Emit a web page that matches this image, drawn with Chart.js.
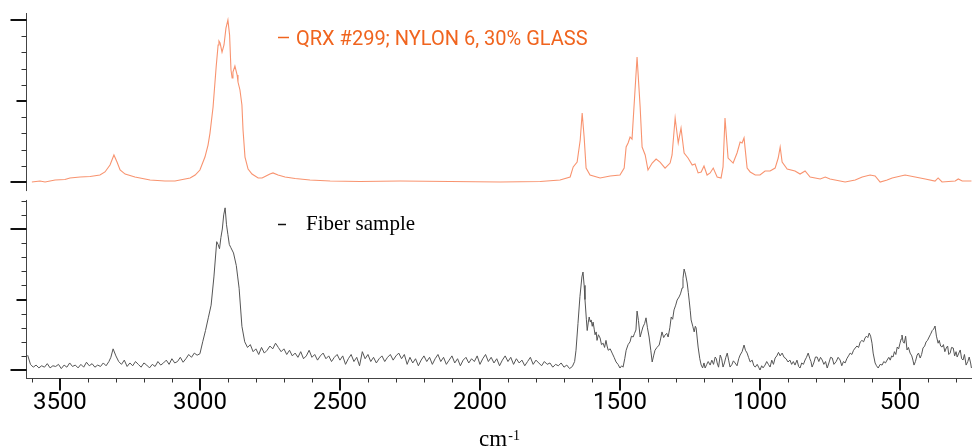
<!DOCTYPE html>
<html><head><meta charset="utf-8">
<script src="https://cdn.jsdelivr.net/npm/chart.js@4.4.0/dist/chart.umd.min.js"></script>
<style>html,body{margin:0;padding:0;background:#fff;}canvas{display:block}</style>
</head><body>
<canvas id="c" width="972" height="448"></canvas>
<script>
// ---- data (wavenumber in cm-1, relative intensity in %) ----
const nylonLabel = 'QRX #299; NYLON 6, 30% GLASS';
const fiberLabel = 'Fiber sample';
const xTickLabels = [3500, 3000, 2500, 2000, 1500, 1000, 500];
const xTitleMain = 'cm';
const xTitleSup = '-1';

const nylonWn = [
 3600,3571,3553,3517,3482,3464,3428,3392,3357,3339,
 3321,3307,3296,3285,3267,3232,3178,3125,3089,3053,
 3035,3017,3000,2982,2971,2964,2953,2942,2935,2932,
 2928,2921,2914,2907,2900,2894,2889,2885,2882,2875,
 2867,2864,2857,2850,2846,2839,2828,2814,2792,2778,
 2764,2750,2739,2721,2696,2660,2607,2535,2428,2285,
 2107,1928,1785,1714,1678,1667,1653,1642,1635,1628,
 1621,1607,1571,1535,1500,1485,1478,1471,1464,1457,
 1450,1439,1428,1421,1410,1400,1385,1371,1357,1339,
 1321,1314,1303,1292,1282,1271,1257,1242,1232,1221,
 1210,1200,1189,1178,1167,1153,1139,1132,1125,1114,
 1096,1082,1071,1064,1057,1046,1035,1017,1000,982,
 964,946,935,928,921,903,875,857,839,821,
 785,767,750,696,660,635,607,589,571,546,
 528,482,446,410,375,364,350,303,292,278,
 245];
const nylonInt = [
 0,0.6,0,1.2,1.5,2.5,3.1,3.4,4.3,6.2,
 10.5,16.7,12.3,7.4,4.9,3.1,1.2,0.6,0.6,1.9,
 2.5,4.3,7.4,15.4,22.8,30.2,46.3,71,84.6,87,
 85.8,80.2,84.6,95,100,90.7,69.1,64.2,67.9,71.6,
 66,61.7,56.8,47.5,32.1,15.4,8,4.9,2.5,2.5,
 3.7,4.9,5.6,4.3,3.1,2.2,1.2,0.6,0.3,0.6,
 0.3,0,0.3,1.2,3.1,9.3,12.3,25.9,42.6,27.8,
 8.6,4.3,2.5,3.7,4.3,8.6,21.6,24.1,27.8,26.5,
 46.3,77.2,46.3,21.6,16.7,7.4,11.7,14.2,12.3,8.6,
 11.7,16.7,39.5,24.1,33.3,17.9,14.8,10.5,11.1,5.6,
 6.2,9.9,4.3,5.6,8.6,3.1,2.5,9.3,39.5,14.8,
 11.7,17.9,24.7,24.1,27.2,8.6,6.2,4.3,4.3,6.8,
 6.8,8.6,14.8,21.6,12.3,8,6.8,4.9,6.8,3.1,
 1.9,3.1,1.9,0,1.2,3.1,4.3,3.7,0,1.2,
 2.5,4.3,3.1,1.9,0.6,2.5,0,0.6,1.9,0.6,
 0.6];

const fiberWn = [
 3615,3605,3595,3585,3575,3565,3555,3545,3535,3525,
 3515,3505,3495,3485,3475,3465,3455,3445,3435,3425,
 3415,3405,3395,3385,3375,3365,3355,3345,3335,3325,
 3318,3310,3300,3290,3280,3270,3260,3250,3240,3230,
 3220,3210,3200,3190,3180,3170,3160,3150,3140,3130,
 3120,3110,3100,3090,3080,3070,3060,3050,3040,3030,
 3020,3010,3000,2990,2980,2970,2960,2950,2940,2935,
 2930,2925,2920,2915,2910,2905,2900,2895,2890,2880,
 2870,2865,2860,2850,2840,2830,2820,2810,2800,2790,
 2780,2770,2760,2750,2740,2730,2720,2710,2700,2690,
 2680,2670,2660,2650,2640,2630,2620,2610,2600,2590,
 2580,2570,2560,2550,2540,2530,2520,2510,2500,2490,
 2480,2470,2460,2450,2440,2430,2420,2410,2400,2390,
 2380,2370,2360,2350,2340,2330,2320,2310,2300,2290,
 2280,2270,2260,2250,2240,2230,2220,2210,2200,2190,
 2180,2170,2160,2150,2140,2130,2120,2110,2100,2090,
 2080,2070,2060,2050,2040,2030,2020,2010,2000,1990,
 1980,1970,1960,1950,1940,1930,1920,1910,1900,1890,
 1880,1870,1860,1850,1840,1830,1820,1810,1800,1790,
 1780,1770,1760,1750,1740,1730,1720,1710,1700,1690,
 1680,1670,1662,1657,1650,1643,1636,1632,1628,1625,
 1620,1617,1613,1610,1606,1603,1599,1596,1592,1589,
 1585,1582,1577,1571,1566,1560,1555,1550,1546,1542,
 1535,1528,1521,1514,1507,1500,1494,1489,1483,1478,
 1471,1464,1459,1453,1448,1443,1439,1434,1428,1423,
 1418,1412,1407,1402,1396,1390,1385,1380,1375,1368,
 1360,1355,1350,1344,1339,1333,1328,1322,1317,1312,
 1307,1301,1296,1289,1284,1278,1275,1271,1266,1260,
 1256,1253,1249,1246,1240,1235,1231,1228,1224,1221,
 1215,1210,1205,1200,1196,1190,1185,1178,1172,1166,
 1160,1156,1153,1148,1142,1137,1132,1127,1122,1117,
 1112,1107,1100,1095,1089,1082,1076,1071,1064,1057,
 1052,1046,1041,1035,1028,1022,1017,1010,1005,1000,
 994,989,982,976,970,964,958,952,946,940,
 934,928,921,914,907,900,893,887,881,875,
 868,862,857,851,845,839,834,828,822,818,
 814,808,802,796,790,784,778,772,766,760,
 754,748,742,736,728,721,714,708,702,696,
 690,684,678,672,666,660,654,648,642,636,
 630,625,620,615,610,605,600,596,589,584,
 578,571,564,558,552,546,540,535,530,525,
 520,515,510,505,500,496,493,489,485,480,
 475,470,464,458,454,450,445,439,434,428,
 423,418,412,407,402,396,392,389,385,380,
 375,370,364,360,355,350,345,340,335,330,
 326,321,316,310,305,300,296,290,285,280,
 275,270,264,258,253,248,245];
const fiberInt = [
 10.5,4,2,3.5,1.5,3,2,4.5,1.5,3,
 2.5,4,1,3.5,2,5,2.5,3.5,1.5,4,
 2,5.5,3,4.5,2,3.5,2.5,5,3,6,
 9,15,10,6,4,7,2.5,5,3,6,
 4,2,5,3.5,1.5,4,2.5,6,3.5,5,
 7,4,8,5,6,9,5.5,8,11,9,
 12,10.5,11.5,20,28,37,46,66,91,89,
 86,94,100,110,115,103,96,89,87,83,
 74,66,58,31,20,16,18,13,15,11,
 16,12,14,17,15,19,16,13,15,11,
 14,10,12,9,13,8,10,14,9,11,
 7,10,12,8,10,6,9,11,7,10,
 4,8,11,6,9,3,13,8,11,6,
 9,5,8,10,6,9,11,7,10,12,
 8,11,4,9,5,8,3,7,10,6,
 9,4,8,11,6,9,4,7,10,5,
 8,3,7,9,5,8,6,10,4,8,
 11,6,9,5,8,3,7,10,6,9,
 4,8,5,7,3,6,9,4,7,5,
 3,6,4,5,2,4,3,5,2,3.5,
 1,2.5,6,14,33,52,66,69.5,60,50,
 36,28,34,37.6,34,35.5,31,34,29,25,
 27,21,25,22.7,18,19,16,21,17,14,
 15,12,9,5.7,4,1.4,3,2,8,14,
 18,20,24,23.4,26,28.4,41.8,35,23.4,27,
 30.5,33,37,30,23.4,14,5.7,10,14,16,
 17.7,22,27,23,24.8,26,23.4,30,37.6,36,
 42.6,46,49.6,51.8,54,58.2,65,71.6,68,61.7,
 55,49.6,42,35.5,31,27,31,29.8,22,16.3,
 8,3.5,1.5,5,1.4,4,6,3.5,7,4,
 9.2,8,5,2,10.6,8,2.1,5,9,12,
 7,2.1,4,6.5,5,3,8,10.6,13,17.7,
 14,12,9,5.7,7,3,2.1,4,2,0,
 3,1.5,3.5,6,4,2.1,7,4,8.5,10,
 12.5,10,12,9,8,5.7,7,4,6,3.5,
 7,2.5,1.4,5,4,7.1,9,12,8,6,
 2.1,5,9.2,9.2,6,9,7.1,4,6,1.4,
 5,9,8.5,4,6,9,7.1,3,6,5,
 8,10,12,11,14,15.6,17,16,19.9,21,
 20,22.7,24,23,26.2,24,19,12,5,3,
 1.4,4,3.5,6,5,7.1,9,7,10,9.2,
 13,11,16.3,15,19,22,24.8,20,19,24,
 14.2,16,12,10,7,3.5,6,10.6,12,8.5,
 11,15.6,17,19.9,21,23.4,25,26.2,28,29,
 31.2,24,19,21,17,16.3,18,13,15.6,17,
 11,12,16,15.6,10,13,9.2,12,14.2,8,
 7.1,11,3.5,6,9.2,5,1.4];

// ---- styling ----
const SANS = 'Roboto, "DejaVu Sans Condensed", sans-serif';
const SERIF = '"Liberation Serif", "Times New Roman", serif';
const nylonColor = '#f8936f';
const nylonTextColor = '#f0641e';
const fiberColor = '#555555';
const AXIS_BOTTOM = 379;

const pts = (wn, iv) => wn.map((w, i) => ({ x: w, y: iv[i] }));

const axesPlugin = {
  id: 'axesPlugin',
  afterDraw(chart) {
    const { ctx, chartArea: ca, scales } = chart;
    const xs = scales.x, yt = scales.yTop, yb = scales.yBottom;
    const L = ca.left + 0.5;
    ctx.save();
    ctx.lineCap = 'butt';
    function seg(x1, y1, x2, y2, w, c) {
      ctx.beginPath(); ctx.lineWidth = w; ctx.strokeStyle = c;
      ctx.moveTo(x1, y1); ctx.lineTo(x2, y2); ctx.stroke();
    }
    function yAxis(sc, lo, hi, minorMax) {
      seg(L, sc.getPixelForValue(hi), L, sc.getPixelForValue(lo), 1, '#444');
      for (let v = 0; v <= minorMax; v += 10) {
        const p = Math.round(sc.getPixelForValue(v));
        if (v === 0 || v === 100) seg(L - 16, p, L, p, 2, '#111');
        else if (v === 50) seg(L - 10, p, L, p, 2, '#111');
        else seg(L - 5, p + 0.5, L, p + 0.5, 1, '#333');
      }
    }
    yAxis(yt, -5.6, yt.max, 100);
    yAxis(yb, yb.min, 120.6, 120);
    // x axis
    const B = Math.round(ca.bottom) - 0.5;
    seg(ca.left, B, ca.right, B, 1, '#444');
    for (let v = 300; v <= 3600; v += 100) {
      const p = Math.round(xs.getPixelForValue(v));
      if (v % 500 === 0) seg(p, B, p, B + 12, 2, '#111');
      else seg(p + 0.5, B, p + 0.5, B + 4, 1, '#333');
    }
    // legends
    ctx.textBaseline = 'alphabetic';
    ctx.textAlign = 'left';
    seg(ca.left + 252, 37.5, ca.left + 263, 37.5, 1.5, nylonTextColor);
    ctx.fillStyle = nylonTextColor;
    ctx.font = '20px ' + SANS;
    ctx.fillText(chart.data.datasets[0].label, ca.left + 270, 45);
    seg(ca.left + 252, 224.5, ca.left + 260, 224.5, 1.5, '#111');
    ctx.fillStyle = '#000';
    ctx.font = '21px ' + SERIF;
    ctx.fillText(chart.data.datasets[1].label, ca.left + 280, 230);
    // x title with superscript
    ctx.font = '23px ' + SERIF;
    const w1 = ctx.measureText(xTitleMain).width;
    ctx.font = '14px ' + SERIF;
    const w2 = ctx.measureText(xTitleSup).width;
    const cx = (ca.left + ca.right) / 2;
    const x0 = cx - (w1 + w2) / 2;
    ctx.font = '23px ' + SERIF;
    ctx.fillText(xTitleMain, x0, 446);
    ctx.font = '14px ' + SERIF;
    ctx.fillText(xTitleSup, x0 + w1 + 1, 440);
    ctx.restore();
  }
};

const chart = new Chart(document.getElementById('c'), {
  type: 'line',
  data: {
    datasets: [
      { label: nylonLabel, data: pts(nylonWn, nylonInt), yAxisID: 'yTop',
        borderColor: nylonColor, borderWidth: 1.1, pointRadius: 0, tension: 0, fill: false },
      { label: fiberLabel, data: pts(fiberWn, fiberInt), yAxisID: 'yBottom',
        borderColor: fiberColor, borderWidth: 1, pointRadius: 0, tension: 0, fill: false }
    ]
  },
  options: {
    responsive: false, animation: false, devicePixelRatio: 1,
    layout: { autoPadding: false, padding: { left: 26, top: 13, right: 0, bottom: 25 } },
    plugins: { legend: { display: false }, tooltip: { enabled: false } },
    scales: {
      x: {
        type: 'linear', reverse: true, min: 243, max: 3621,
        grid: { display: false, drawTicks: true, tickLength: 10 }, border: { display: false },
        ticks: {
          stepSize: 100, autoSkip: false, maxRotation: 0, minRotation: 0, padding: 0,
          color: '#000', font: { family: SANS, size: 24 },
          callback: v => xTickLabels.includes(v) ? String(v) : ''
        }
      },
      yBottom: {
        type: 'linear', stack: 'panels', stackWeight: 183.5, min: -6.38, max: 123.76,
        grid: { display: false, drawTicks: false }, border: { display: false },
        ticks: { display: false }
      },
      yTop: {
        type: 'linear', stack: 'panels', stackWeight: 182.5, min: -8.33, max: 104.32,
        grid: { display: false, drawTicks: false }, border: { display: false },
        ticks: { display: false }
      }
    }
  },
  plugins: [axesPlugin]
});
// fine-tune the bottom padding so the x axis sits where the reference puts it
const diff = AXIS_BOTTOM - chart.chartArea.bottom;
if (Math.abs(diff) > 0.3) {
  chart.options.layout.padding.bottom -= diff;
  chart.update();
}
</script>
</body></html>
